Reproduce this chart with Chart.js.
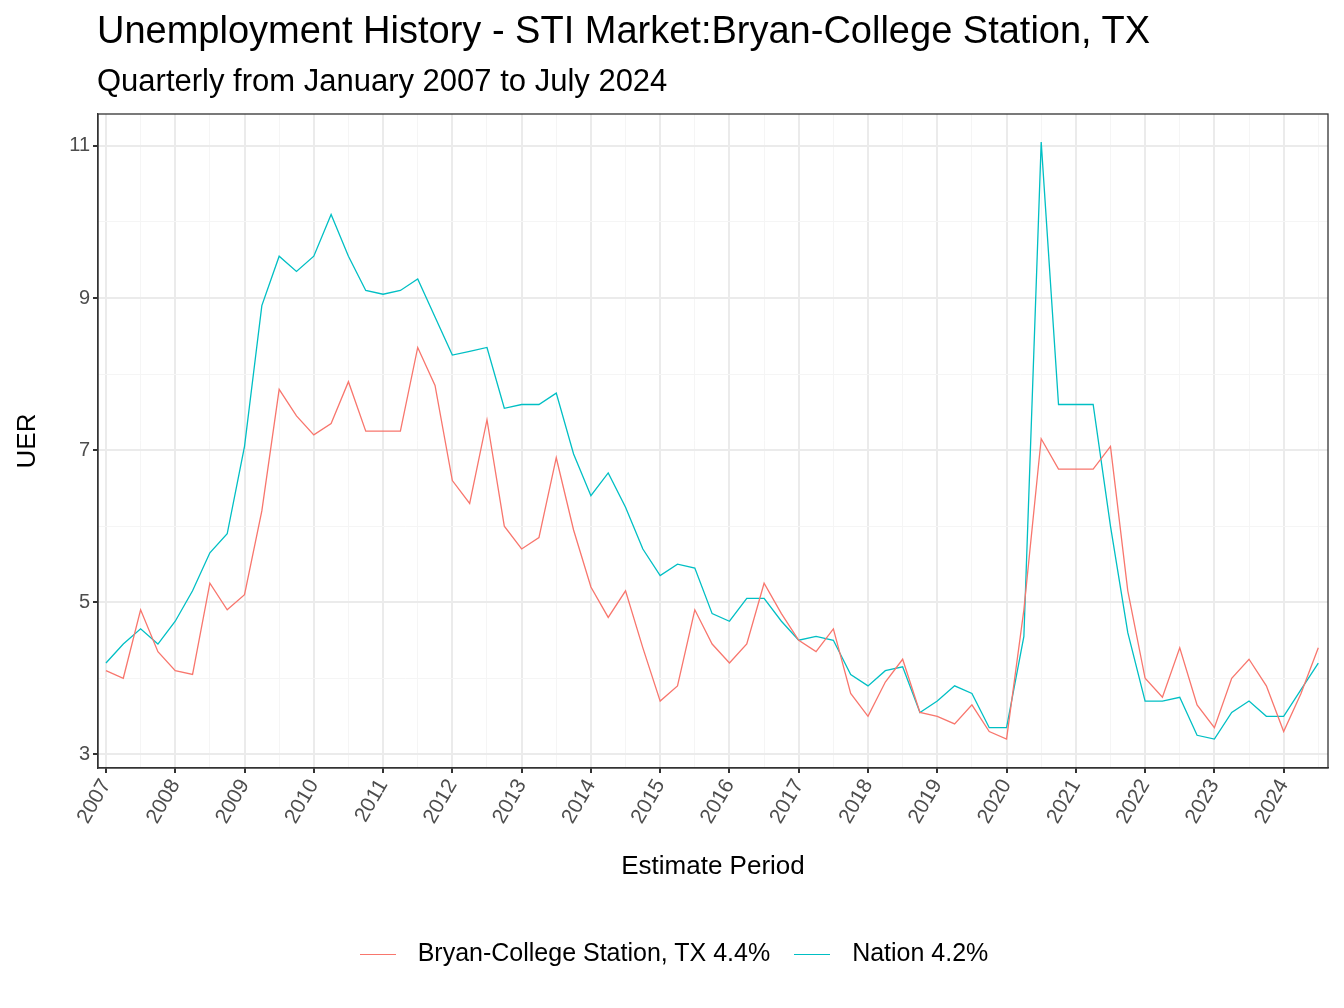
<!DOCTYPE html>
<html><head><meta charset="utf-8">
<script src="https://cdn.jsdelivr.net/npm/chart.js@4"></script>
<style>
body{margin:0;background:#fff;font-family:Arial,"Liberation Sans",sans-serif}
#wrap{position:relative;width:1344px;height:1008px}
canvas{position:absolute;left:0;top:0}
.t{position:absolute;left:97px;color:#000;white-space:nowrap}
#leg{position:absolute;top:938px;left:0;width:1344px;text-align:center;font-size:25px;color:#000}
#leg span.sw{display:inline-block;width:36px;height:0;border-top:1.5px solid;vertical-align:middle;margin:0 22px 0 4px}
#leg span.it{margin:0 10px}
</style></head>
<body>
<div id="wrap">
<canvas id="c" width="1344" height="1008"></canvas>
<div class="t" style="top:9px;font-size:38px">Unemployment History - STI Market:Bryan-College Station, TX</div>
<div class="t" style="top:63px;font-size:31px">Quarterly from January 2007 to July 2024</div>
<div id="leg"><span class="it"><span class="sw" style="border-color:#F8766D"></span>Bryan-College Station, TX 4.4%</span><span class="it"><span class="sw" style="border-color:#00BFC4"></span>Nation 4.2%</span></div>
</div>
<script>
// --- DADOS (trimestrais, 2007 T1 a 2024 T3) ---
const anoInicio = 2007;
const bryan = [
  4.1, 4.0, 4.9, 4.35,  4.1, 4.05, 5.25, 4.9,  5.1, 6.2, 7.8, 7.45,
  7.2, 7.35, 7.9, 7.25,  7.25, 7.25, 8.35, 7.85,  6.6, 6.3, 7.4, 6.0,
  5.7, 5.85, 6.9, 5.95,  5.2, 4.8, 5.15, 4.4,  3.7, 3.9, 4.9, 4.45,
  4.2, 4.45, 5.25, 4.85,  4.5, 4.35, 4.65, 3.8,  3.5, 3.95, 4.25, 3.55,
  3.5, 3.4, 3.65, 3.3,  3.2, 4.9, 7.15, 6.75,  6.75, 6.75, 7.05, 5.15,
  4.0, 3.75, 4.4, 3.65,  3.35, 4.0, 4.25, 3.9,  3.3, 3.8, 4.4
];
const nacao = [
  4.2, 4.45, 4.65, 4.45,  4.75, 5.15, 5.65, 5.9,  7.05, 8.9, 9.55, 9.35,
  9.55, 10.1, 9.55, 9.1,  9.05, 9.1, 9.25, 8.75,  8.25, 8.3, 8.35, 7.55,
  7.6, 7.6, 7.75, 6.95,  6.4, 6.7, 6.25, 5.7,  5.35, 5.5, 5.45, 4.85,
  4.75, 5.05, 5.05, 4.75,  4.5, 4.55, 4.5, 4.05,  3.9, 4.1, 4.15, 3.55,
  3.7, 3.9, 3.8, 3.35,  3.35, 4.55, 11.05, 7.6,  7.6, 7.6, 6.0, 4.6,
  3.7, 3.7, 3.75, 3.25,  3.2, 3.55, 3.7, 3.5,  3.5, 3.85, 4.2
];
const pts = arr => arr.map((v, i) => ({ x: anoInicio + i / 4, y: v }));

const ehMaiorX = c => c.tick && Number.isInteger(c.tick.value);
const ehMaiorY = c => c.tick && c.tick.value % 2 === 1;

new Chart(document.getElementById('c'), {
  type: 'line',
  data: { datasets: [
    { data: pts(bryan), borderColor: '#F8766D', borderWidth: 1.3, pointRadius: 0, tension: 0 },
    { data: pts(nacao), borderColor: '#00BFC4', borderWidth: 1.3, pointRadius: 0, tension: 0 }
  ]},
  options: {
    responsive: false, animation: false,
    layout: { padding: { top: 114, right: 16, bottom: 110, left: 0 } },
    plugins: { legend: { display: false }, tooltip: { enabled: false } },
    scales: {
      x: {
        type: 'linear', min: 2006.885, max: 2024.64,
        afterFit: s => { s.height = 130; },
        afterBuildTicks: s => { s.ticks = []; for (let v = 2006.5; v <= 2024.6; v += 0.5) if (v >= s.min) s.ticks.push({ value: v }); },
        ticks: { autoSkip: false, maxRotation: 60, minRotation: 60, color: '#4d4d4d', font: { size: 21 }, padding: 2,
          callback: v => Number.isInteger(v) ? String(v) : '' },
        grid: { color: c => ehMaiorX(c) ? '#ebebeb' : '#f5f5f5', lineWidth: c => ehMaiorX(c) ? 2 : 1,
          tickColor: c => ehMaiorX(c) ? '#333' : 'rgba(0,0,0,0)', tickLength: 5 },
        border: { color: '#333', width: 1.3 },
        title: { display: true, text: 'Estimate Period', color: '#000', font: { size: 26 }, padding: { top: 0, bottom: 16 } }
      },
      y: {
        min: 2.82, max: 11.42,
        afterFit: s => { s.width = 98; },
        afterBuildTicks: s => { s.ticks = []; for (let v = 3; v <= 11; v++) s.ticks.push({ value: v }); },
        ticks: { color: '#4d4d4d', font: { size: 20 }, callback: v => v % 2 === 1 ? String(v) : '' },
        grid: { color: c => ehMaiorY(c) ? '#ebebeb' : '#f5f5f5', lineWidth: c => ehMaiorY(c) ? 2 : 1,
          tickColor: c => ehMaiorY(c) ? '#333' : 'rgba(0,0,0,0)', tickLength: 5 },
        border: { color: '#333', width: 1.3 },
        title: { display: true, text: 'UER', color: '#000', font: { size: 26 }, padding: { top: 12, bottom: 4 } }
      }
    }
  },
  plugins: [{
    id: 'moldura',
    afterDraw(chart) {
      const { ctx, chartArea: a } = chart;
      ctx.save(); ctx.strokeStyle = '#333'; ctx.lineWidth = 1.3;
      ctx.strokeRect(a.left, a.top, a.right - a.left, a.bottom - a.top); ctx.restore();
    }
  }]
});
</script>
</body></html>
